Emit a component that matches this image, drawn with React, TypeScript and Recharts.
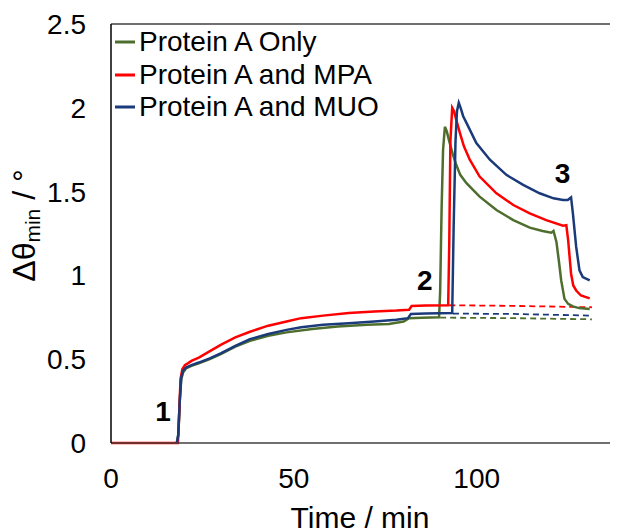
import React from 'react';
import { LineChart, Line, XAxis, YAxis, ReferenceLine, ReferenceDot, Legend } from 'recharts';

const FONT = '"Liberation Sans", Arial, sans-serif';

const seriesNames = ['Protein A Only', 'Protein A and MPA', 'Protein A and MUO'];
const seriesColors = ['#4E6E2E', '#FF0000', '#1B3A7A'];

const xTicks = [0, 50, 100];
const yTicks = [0, 0.5, 1, 1.5, 2, 2.5];

const greenT = [18.0, 18.4, 18.8, 19.2, 19.7, 20.5, 22, 24, 27, 30, 34, 38, 43, 48, 55, 62, 70, 76, 80, 81.5, 85, 89.7, 90.0, 90.4, 90.8, 91.3, 91.8, 92.5, 93.5, 94.4, 95.5, 97.2, 100.8, 105.4, 110, 114.5, 118, 120.4, 121.0, 121.8, 122.5, 123.1, 124.0, 125, 126.3, 128, 130.9];
const greenV = [0, 0.05, 0.25, 0.38, 0.42, 0.445, 0.46, 0.475, 0.5, 0.53, 0.575, 0.61, 0.64, 0.66, 0.68, 0.695, 0.705, 0.71, 0.725, 0.745, 0.748, 0.75, 0.9, 1.4, 1.75, 1.887, 1.86, 1.8, 1.72, 1.66, 1.6, 1.55, 1.47, 1.39, 1.33, 1.285, 1.265, 1.255, 1.265, 1.2, 1.08, 0.97, 0.86, 0.83, 0.815, 0.805, 0.8];

const redT = [0, 18.3, 18.6, 19.0, 19.5, 20.2, 21, 22, 24, 26, 28, 30, 34, 38, 43, 48, 52, 58, 65, 72, 78, 81.5, 82.2, 86, 92.2, 92.5, 92.8, 93.3, 93.8, 94.5, 95.4, 96.5, 98.1, 100.8, 105.4, 110, 114.5, 119, 123.6, 124.5, 125, 125.8, 126.4, 127.2, 128.5, 130.9];
const redV = [0, 0, 0.15, 0.38, 0.44, 0.465, 0.475, 0.49, 0.51, 0.535, 0.56, 0.585, 0.63, 0.664, 0.7, 0.725, 0.745, 0.76, 0.775, 0.785, 0.79, 0.795, 0.817, 0.82, 0.822, 1.2, 1.8, 2.0, 1.98, 1.92, 1.85, 1.77, 1.69, 1.59, 1.49, 1.42, 1.37, 1.33, 1.297, 1.3, 1.21, 1.01, 0.94, 0.91, 0.88, 0.863];

const blueT = [18.0, 18.4, 18.8, 19.2, 19.7, 20.5, 22, 24, 27, 30, 34, 38, 43, 48, 52, 58, 65, 72, 78, 81.2, 82, 86, 93.3, 93.7, 94.2, 94.6, 95.1, 95.6, 96.3, 97.2, 99.9, 103.6, 108.1, 112.7, 117.2, 121, 123.6, 124.9, 125.8, 126.3, 127.2, 128.1, 129, 130.9];
const blueV = [0, 0.05, 0.25, 0.39, 0.43, 0.45, 0.465, 0.48, 0.505, 0.535, 0.58, 0.62, 0.65, 0.675, 0.69, 0.705, 0.715, 0.725, 0.735, 0.745, 0.77, 0.772, 0.775, 1.3, 1.8, 1.98, 2.03, 2.0, 1.95, 1.91, 1.79, 1.69, 1.6, 1.54, 1.49, 1.46, 1.45, 1.45, 1.466, 1.37, 1.17, 1.03, 0.99, 0.97];

const greenDashT = [90, 110, 131.5];
const greenDashV = [0.748, 0.745, 0.738];
const redDashT = [92.5, 110, 131.5];
const redDashV = [0.822, 0.818, 0.81];
const blueDashT = [93.5, 110, 131.5];
const blueDashV = [0.772, 0.77, 0.76];

const annotations = [
  { label: '1', t: 14.2, v: 0.185 },
  { label: '2', t: 85.8, v: 0.97 },
  { label: '3', t: 123.5, v: 1.61 },
];

const zip = (ts: number[], vs: number[]) => ts.map((t, i) => ({ t, v: vs[i] }));

const greenData = zip(greenT, greenV);
const redData = zip(redT, redV);
const blueData = zip(blueT, blueV);
const greenDash = zip(greenDashT, greenDashV);
const redDash = zip(redDashT, redDashV);
const blueDash = zip(blueDashT, blueDashV);

const XTitle = (props: any) => {
  const vb = props.viewBox || {};
  return (
    <text x={vb.x + vb.width / 2 - 7} y={520} textAnchor="middle" fontSize={30} fontFamily={FONT} fill="#000">
      Time / min
    </text>
  );
};

const YTitle = (props: any) => {
  const vb = props.viewBox || {};
  const cx = 16;
  const cy = vb.y + vb.height / 2 - 8;
  return (
    <text
      x={cx}
      y={cy}
      transform={`rotate(-90, ${cx}, ${cy})`}
      textAnchor="middle"
      dominantBaseline="central"
      fontSize={32}
      fontFamily={FONT}
      fill="#000"
    >
      Δθ
      <tspan fontSize={21} dy={8}>min</tspan>
      <tspan dy={-8}> / °</tspan>
    </text>
  );
};

const renderLegend = () => (
  <div style={{ fontFamily: FONT, fontSize: 28, color: '#000' }}>
    {seriesNames.map((n, i) => (
      <div key={n} style={{ display: 'flex', alignItems: 'center', height: 32.5, whiteSpace: 'nowrap' }}>
        <svg width={20} height={4} style={{ marginRight: 4 }}>
          <line x1={0} y1={2} x2={20} y2={2} stroke={seriesColors[i]} strokeWidth={3} />
        </svg>
        <span>{n}</span>
      </div>
    ))}
  </div>
);

const AnnotationShape = (label: string) => (props: any) => (
  <text
    x={props.cx}
    y={props.cy}
    textAnchor="middle"
    dominantBaseline="central"
    fontSize={28}
    fontWeight="bold"
    fontFamily={FONT}
    fill="#000"
  >
    {label}
  </text>
);

export default function App() {
  return (
    <LineChart width={630} height={524} margin={{ top: 16, right: 15, bottom: 29, left: 0 }}>
      <XAxis
        type="number"
        dataKey="t"
        domain={[0, 140]}
        ticks={xTicks}
        allowDataOverflow
        tickLine={false}
        tickSize={0}
        tickMargin={25}
        axisLine={{ stroke: '#404040', strokeWidth: 1.5 }}
        tick={{ fontSize: 28, fill: '#000', fontFamily: FONT }}
        height={60}
        label={<XTitle />}
      />
      <YAxis
        type="number"
        domain={[0, 2.5]}
        ticks={yTicks}
        width={103}
        tickLine={false}
        tickSize={0}
        tickMargin={25}
        axisLine={{ stroke: '#000', strokeWidth: 1.5 }}
        tick={{ fontSize: 28, fill: '#000', fontFamily: FONT }}
        tickFormatter={(v: number) => String(v)}
        label={<YTitle />}
      />
      <ReferenceLine y={2.5} stroke="#404040" strokeWidth={1.5} />
      <Legend
        layout="horizontal"
        verticalAlign="middle"
        align="center"
        content={renderLegend}
        wrapperStyle={{ left: 107, top: 18, width: 'auto', height: 'auto' }}
      />
      <Line data={greenDash} dataKey="v" stroke={seriesColors[0]} strokeWidth={1.8} strokeDasharray="6 4" dot={false} isAnimationActive={false} legendType="none" />
      <Line data={blueDash} dataKey="v" stroke={seriesColors[2]} strokeWidth={1.8} strokeDasharray="6 4" dot={false} isAnimationActive={false} legendType="none" />
      <Line data={redDash} dataKey="v" stroke={seriesColors[1]} strokeWidth={1.8} strokeDasharray="6 4" dot={false} isAnimationActive={false} legendType="none" />
      <Line data={greenData} dataKey="v" name={seriesNames[0]} stroke={seriesColors[0]} strokeWidth={2.5} dot={false} isAnimationActive={false} />
      <Line data={redData} dataKey="v" name={seriesNames[1]} stroke={seriesColors[1]} strokeWidth={2.5} dot={false} isAnimationActive={false} />
      <Line data={blueData} dataKey="v" name={seriesNames[2]} stroke={seriesColors[2]} strokeWidth={2.5} dot={false} isAnimationActive={false} />
      {annotations.map((a) => (
        <ReferenceDot key={a.label} x={a.t} y={a.v} r={0} shape={AnnotationShape(a.label)} />
      ))}
    </LineChart>
  );
}
